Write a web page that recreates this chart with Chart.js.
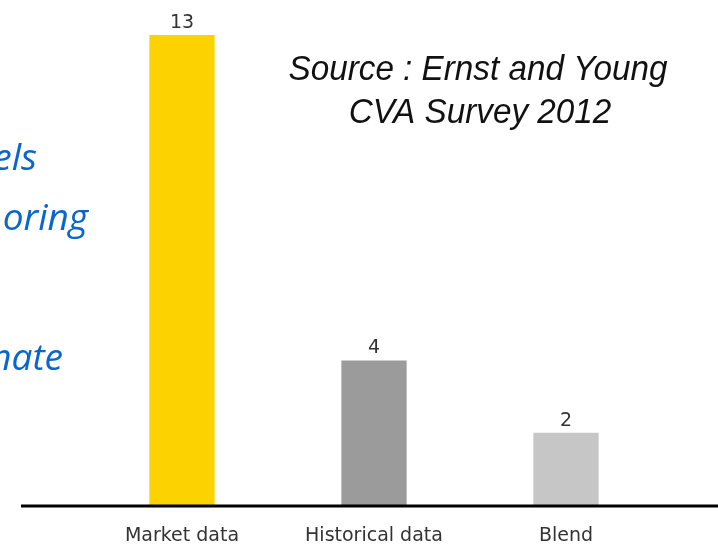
<!DOCTYPE html>
<html>
<head>
<meta charset="utf-8">
<script src="https://cdn.jsdelivr.net/npm/chart.js@4"></script>
<style>
  html, body { margin: 0; padding: 0; background: #fff; }
  canvas { display: block; }
</style>
</head>
<body>
<canvas id="cvaChart" width="718" height="546"></canvas>
<script>
// CVA survey: data source used for credit spreads
const categories = ["Market data", "Historical data", "Blend"];
const counts = [13, 4, 2];
const barColors = ["#fcd200", "#9b9b9b", "#c6c6c6"];

// side text of the slide (left column is cut off at the edge)
const sourceLines = ["Source : Ernst and Young", "CVA Survey 2012"];
const sideLines = [
    { text: "els", right: 37, base: 170 },
    { text: "oring", right: 88, base: 230 },
    { text: "nate", right: 63, base: 370 }
];

// thick black baseline, wider than the plot area
const baselinePlugin = {
    id: 'baseline',
    afterDatasetsDraw(chart) {
        const ctx = chart.ctx;
        const y = chart.scales.y.getPixelForValue(0) + 1;
        ctx.save();
        ctx.strokeStyle = '#000';
        ctx.lineWidth = 3;
        ctx.beginPath();
        ctx.moveTo(21, y);
        ctx.lineTo(chart.width, y);
        ctx.stroke();
        ctx.restore();
    }
};

// centred italic line, squeezed a little horizontally
function narrowText(ctx, text, cx, base, sx) {
    ctx.save();
    ctx.translate(cx, base);
    ctx.scale(sx, 1);
    ctx.fillText(text, 0, 0);
    ctx.restore();
}

// value above each bar + the text blocks
const labelsPlugin = {
    id: 'labels',
    afterDraw(chart) {
        const ctx = chart.ctx;
        ctx.save();
        ctx.fillStyle = '#333';
        ctx.font = '19px "DejaVu Sans"';
        ctx.textAlign = 'center';
        ctx.textBaseline = 'alphabetic';
        chart.getDatasetMeta(0).data.forEach((bar, i) => {
            ctx.fillText(counts[i], bar.x, bar.y - 7);
        });

        ctx.fillStyle = '#111';
        ctx.font = 'italic 35px "Liberation Sans"';
        narrowText(ctx, sourceLines[0], 478, 80, 0.95);
        narrowText(ctx, sourceLines[1], 480, 123, 0.95);

        ctx.fillStyle = '#0a66cc';
        ctx.font = 'italic 37px "Open Sans"';
        ctx.textAlign = 'right';
        sideLines.forEach(l => ctx.fillText(l.text, l.right, l.base));
        ctx.restore();
    }
};

new Chart(document.getElementById("cvaChart"), {
    type: 'bar',
    data: {
        labels: categories,
        datasets: [{
            data: counts,
            backgroundColor: barColors,
            categoryPercentage: 1,
            barPercentage: 0.34
        }]
    },
    options: {
        responsive: false,
        animation: false,
        layout: {
            padding: { top: 35, left: 86, right: 56, bottom: 0 }
        },
        scales: {
            x: {
                grid: { display: false, drawTicks: false },
                border: { display: false },
                ticks: {
                    color: '#333',
                    padding: 20,
                    font: { family: 'DejaVu Sans', size: 19 }
                },
                afterFit(scale) { scale.height = 41; }
            },
            y: {
                display: false,
                beginAtZero: true,
                max: Math.max(...counts)
            }
        },
        plugins: {
            legend: { display: false },
            tooltip: { enabled: false }
        }
    },
    plugins: [baselinePlugin, labelsPlugin]
});
</script>
</body>
</html>
